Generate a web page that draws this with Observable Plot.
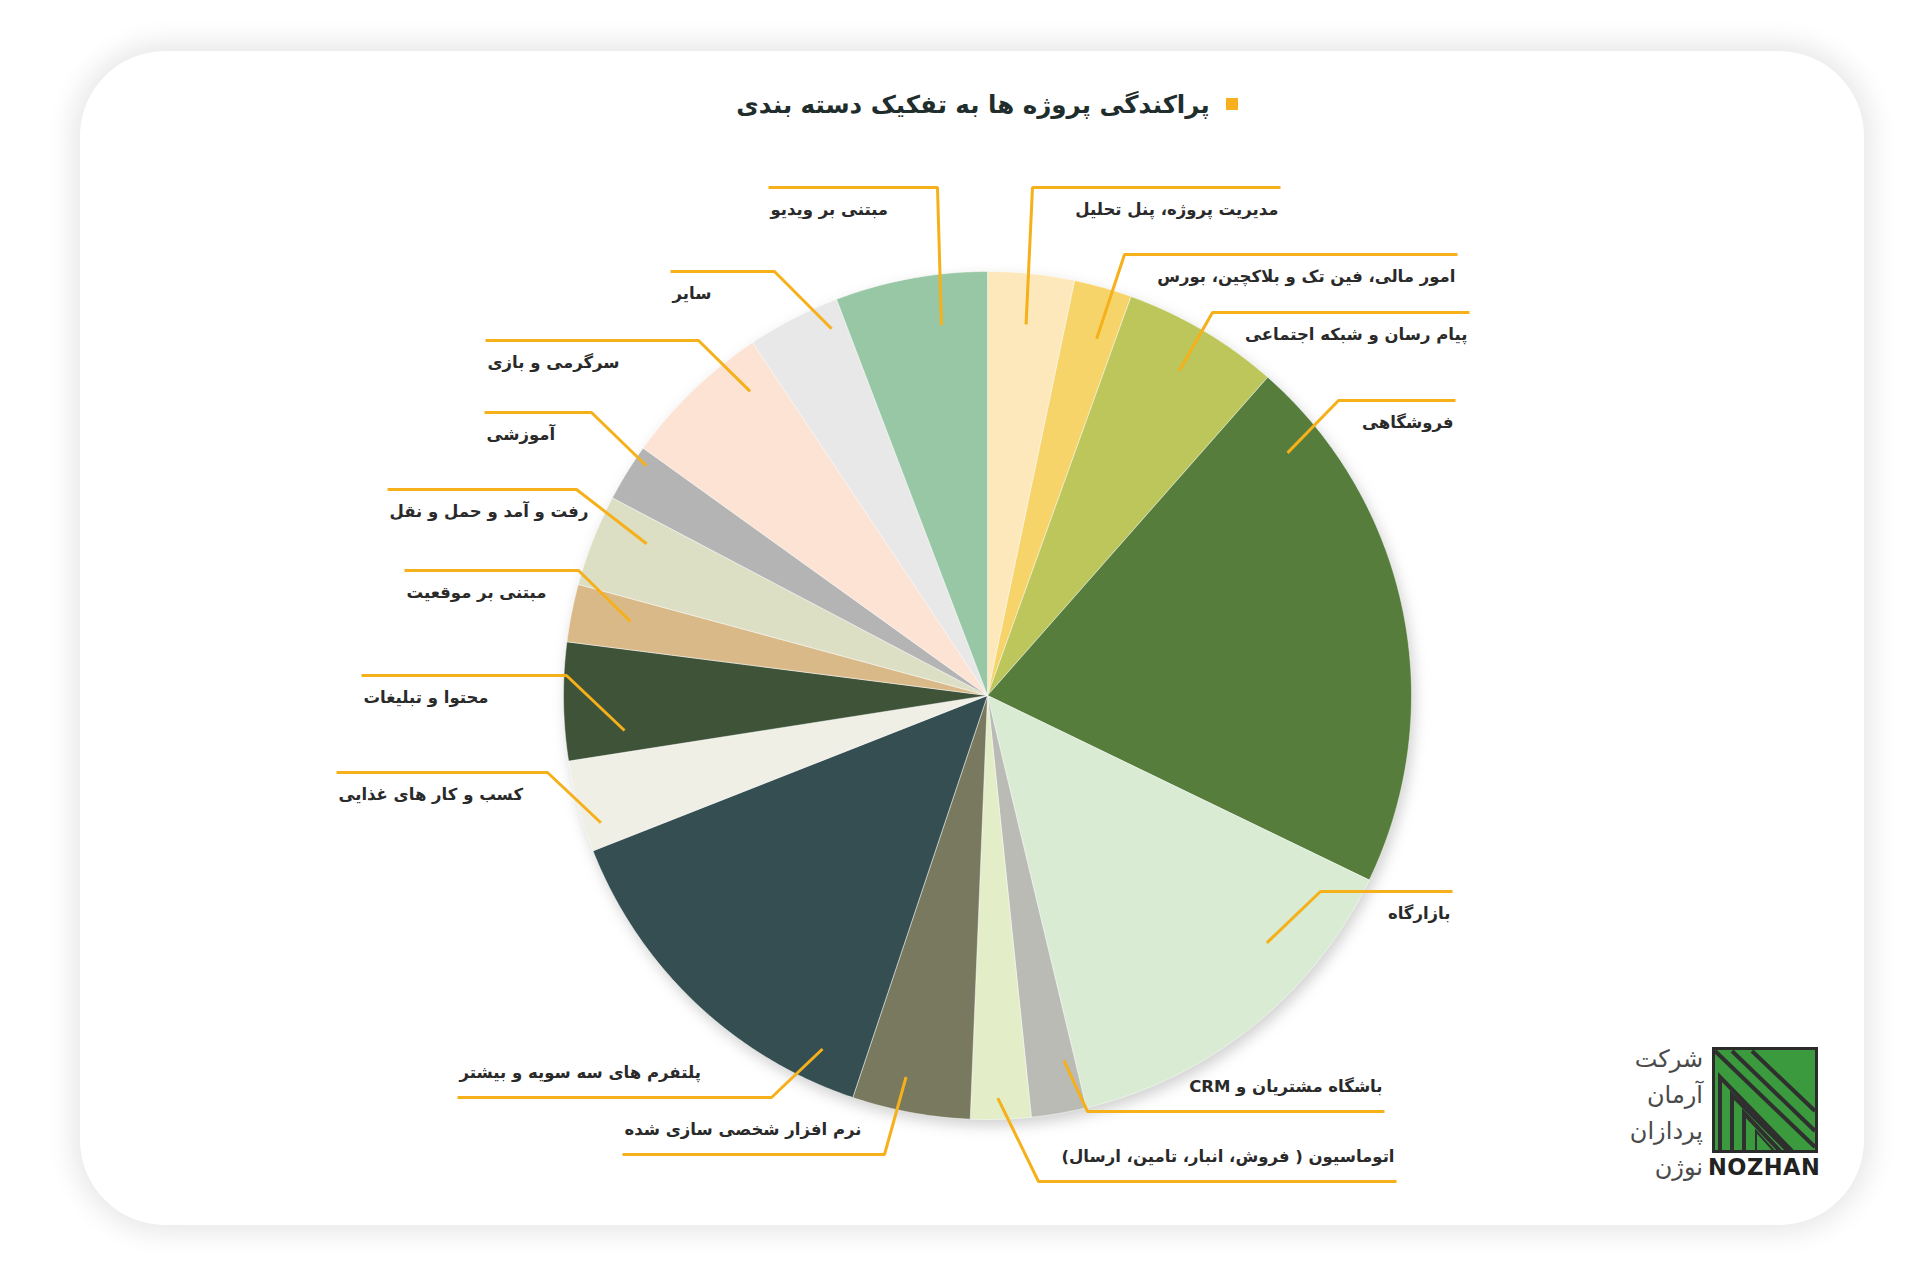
<!DOCTYPE html>
<html lang="fa">
<head>
<meta charset="utf-8">
<script src="https://cdn.jsdelivr.net/npm/d3@7"></script>
<script src="https://cdn.jsdelivr.net/npm/@observablehq/plot@0.6"></script>
<style>
  html, body { margin: 0; padding: 0; background: #ffffff; width: 1920px; height: 1280px; overflow: hidden; }
  #card {
    position: absolute; left: 80px; top: 51px; width: 1784px; height: 1174px;
    border-radius: 85px; background: #ffffff;
    box-shadow: 0 0 26px 9px rgba(0,0,0,0.09);
  }
  #title {
    position: absolute; left: 0; top: 0; width: 1814px; height: 106px;
    display: flex; align-items: center; justify-content: center;
    font-family: "DejaVu Sans", sans-serif; font-weight: bold; font-size: 24.5px; color: #1f2e2c;
  }
  #title .sq { display: inline-block; width: 12px; height: 12px; background: #F5B01A; margin-left: 16px; }
  #chart { position: absolute; left: 0; top: 106px; }
  #logo { position: absolute; left: 1600px; top: 1040px; width: 230px; height: 150px; }
  #logo .txt {
    position: absolute; right: 127px; top: 1px; text-align: right; direction: rtl;
    font-family: "DejaVu Sans", sans-serif; font-size: 24px; line-height: 36px; color: #4a4a4a;
  }
  #logo .nozhan {
    position: absolute; left: 108px; top: 114px; font-family: "DejaVu Sans", sans-serif;
    font-weight: bold; font-size: 22.5px; color: #222; letter-spacing: 0.5px;
  }
  #logo svg { position: absolute; left: 112px; top: 7px; }
</style>
</head>
<body>
<div id="card">
  <div id="title" dir="rtl"><span class="sq"></span><span>پراکندگی پروژه ها به تفکیک دسته بندی</span></div>
  <div id="chart"></div>
</div>
<div id="logo">
  <div class="txt">شرکت<br>آرمان<br>پردازان<br>نوژن</div>
  <svg width="106" height="106" viewBox="0 0 106 106">
    <rect x="1.5" y="1.5" width="103" height="103" fill="#3C9A3E" stroke="#2b2b2b" stroke-width="3"/>
    <g fill="none" stroke="#2f2f2f" stroke-width="4">
      <path d="M3,4 L103,100"/>
      <path d="M20,4 L103,84"/>
      <path d="M40,4 L103,64"/>
      <path d="M8,104 L8,30 L80,104"/>
      <path d="M20,104 L20,48 L76,104"/>
      <path d="M32,104 L32,66 L68,104"/>
    </g>
    <g fill="none" stroke="#2f2f2f" stroke-width="2"><path d="M44,104 L44,84 L62,104"/></g>
  </svg>
  <div class="nozhan">NOZHAN</div>
</div>
<script>
// ---------------- data (clockwise from 12 o'clock) ----------------
const categories = [
  "مدیریت پروژه، پنل تحلیل",
  "امور مالی، فین تک و بلاکچین، بورس",
  "پیام رسان و شبکه اجتماعی",
  "فروشگاهی",
  "بازارگاه",
  "باشگاه مشتریان و CRM",
  "اتوماسیون ( فروش، انبار، تامین، ارسال)",
  "نرم افزار شخصی سازی شده",
  "پلتفرم های سه سویه و بیشتر",
  "کسب و کار های غذایی",
  "محتوا و تبلیغات",
  "مبتنی بر موقعیت",
  "رفت و آمد و حمل و نقل",
  "آموزشی",
  "سرگرمی و بازی",
  "سایر",
  "مبتنی بر ویدیو"
];
const shares = [3.3, 2.2, 6.0, 20.7, 14.1, 2.1, 2.3, 4.5, 13.9, 3.5, 4.5, 2.2, 3.5, 2.2, 5.75, 3.55, 5.8];
const colors = [
  "#FDE8BC", "#F6D46A", "#BCC65A", "#567D3C", "#D9EBD2", "#B9BBB4", "#E3EDC8", "#78795E", "#344E52",
  "#EFEFE6", "#3F5339", "#D9B987", "#DCDFC4", "#B4B4B4", "#FDE3D3", "#E8E8E8", "#98C7A5"
];

// ---------------- label layout (pixels relative to pie centre) ----------------
const labelSide   = ["R","R","R","R","R","R","R","L","L","L","L","L","L","L","L","L","L"];
const elbowX      = [45, 137, 225, 351, 333, 100, 51, -103, -216, -440, -421, -409, -411, -396, -289, -213, -50];
const elbowY      = [-508, -441, -383, -295, 196, 416, 486, 459, 402, 77, -20, -125, -206, -283, -355, -424, -508];
const lineEndX    = [293, 470, 482, 468, 465, 397, 409, -365, -530, -651, -626, -583, -600, -503, -502, -317, -219];
const textPlace   = ["below","below","below","below","below","above","above","above","above","below","below","below","below","below","below","below","below"];
const anchorT     = [0.5, 0.65, 0.5, 0.13, 0.31, 0.22, 0.54, 0.6, 0.13, 0.26, 0.21, 0.56, 0.7, 0.78, 0.79, 0.83, 0.66];
const anchorR     = [0.88, 0.88, 0.89, 0.91, 0.88, 0.88, 0.95, 0.92, 0.92, 0.96, 0.86, 0.86, 0.88, 0.97, 0.91, 0.94, 0.88];

const W = 1784, H = 1068, CX = 907, CY = 538, R = 424;

// ---------------- geometry ----------------
const total = d3.sum(shares);
const pt = (a, r) => ({x: r * Math.sin(a), y: -r * Math.cos(a)});
let cum = 0;
const slices = categories.map((c, i) => {
  const a0 = cum / total * 2 * Math.PI;
  cum += shares[i];
  const a1 = cum / total * 2 * Math.PI;
  return {cat: c, a0, a1};
});
const slicePts = [];
slices.forEach(s => {
  slicePts.push({cat: s.cat, x: 0, y: 0});
  const n = Math.max(2, Math.ceil((s.a1 - s.a0) / (Math.PI / 360)));
  for (let k = 0; k <= n; k++) {
    const p = pt(s.a0 + (s.a1 - s.a0) * k / n, R);
    slicePts.push({cat: s.cat, x: p.x, y: p.y});
  }
  slicePts.push({cat: s.cat, x: 0, y: 0});
});

const leaderPts = [];
const labels = [];
slices.forEach((s, i) => {
  const a = s.a0 + (s.a1 - s.a0) * anchorT[i];
  const p = pt(a, R * anchorR[i]);
  leaderPts.push({cat: s.cat, x: p.x, y: p.y});
  leaderPts.push({cat: s.cat, x: elbowX[i], y: elbowY[i]});
  leaderPts.push({cat: s.cat, x: lineEndX[i], y: elbowY[i]});
  labels.push({
    text: s.cat, side: labelSide[i],
    x: lineEndX[i] + (labelSide[i] === "R" ? -2 : 2),
    y: elbowY[i] + (textPlace[i] === "below" ? 22 : -25)
  });
});

const textStyle = {fontFamily: "DejaVu Sans, sans-serif", fontWeight: "bold", fontSize: 16.5, fill: "#2a2a2a", lineAnchor: "middle"};

const chart = Plot.plot({
  width: W, height: H, margin: 0,
  style: {direction: "rtl", background: "transparent", overflow: "visible"},
  x: {domain: [-CX, W - CX], range: [0, W], axis: null},
  y: {domain: [-CY, H - CY], range: [0, H], axis: null},
  color: {type: "ordinal", domain: categories, range: colors},
  marks: [
    Plot.line(slicePts, {x: "x", y: "y", z: "cat", fill: "cat", stroke: "#ffffff", strokeWidth: 0.8, strokeOpacity: 0.6, curve: "linear"}),
    Plot.line(leaderPts, {x: "x", y: "y", z: "cat", stroke: "#F5B01A", strokeWidth: 3, strokeLinecap: "butt", strokeLinejoin: "miter", curve: "linear"}),
    Plot.text(labels.filter(d => d.side === "R"), {x: "x", y: "y", text: "text", textAnchor: "start", ...textStyle}),
    Plot.text(labels.filter(d => d.side === "L"), {x: "x", y: "y", text: "text", textAnchor: "end", ...textStyle})
  ]
});
const firstLine = chart.querySelector('g[aria-label="line"]');
if (firstLine) firstLine.style.filter = "drop-shadow(3px 6px 7px rgba(0,0,0,0.18))";
document.getElementById("chart").appendChild(chart);
</script>
</body>
</html>
